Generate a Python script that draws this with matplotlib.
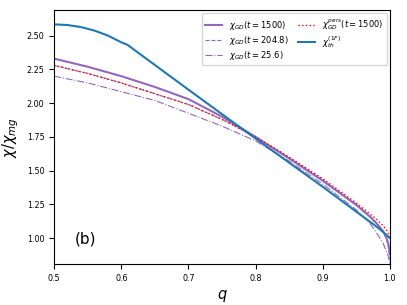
import matplotlib
matplotlib.use("Agg")
import matplotlib.pyplot as plt
import numpy as np

q = [0.5, 0.55, 0.6, 0.65, 0.7, 0.75, 0.8, 0.85, 0.9, 0.95, 0.97, 0.98, 0.99, 0.995, 0.998, 1.0]

gd_1500 = [2.33, 2.27, 2.20, 2.12, 2.03, 1.90, 1.75, 1.59, 1.425, 1.245, 1.16, 1.11, 1.05, 1.00, 0.95, 0.88]
gd_204 = [2.28, 2.22, 2.15, 2.07, 1.99, 1.88, 1.75, 1.595, 1.43, 1.25, 1.165, 1.115, 1.05, 0.99, 0.93, 0.84]
gd_25 = [2.20, 2.15, 2.085, 2.02, 1.925, 1.83, 1.72, 1.57, 1.40, 1.21, 1.11, 1.04, 0.96, 0.90, 0.86, 0.80]
gd_pers = [2.28, 2.22, 2.15, 2.07, 1.99, 1.88, 1.75, 1.60, 1.44, 1.26, 1.18, 1.14, 1.09, 1.06, 1.03, 1.00]

q_th = [0.5, 0.52, 0.54, 0.56, 0.58, 0.6, 0.609, 0.7, 0.789, 0.9, 0.98, 0.99, 0.995, 1.0]
chi_th = [2.584, 2.579, 2.564, 2.538, 2.501, 2.451, 2.433, 2.10, 1.777, 1.38, 1.085, 1.045, 1.022, 1.0]

fig = plt.figure(figsize=(4.07, 3.05), dpi=100)
ax = fig.add_axes([0.133, 0.134, 0.825, 0.833])

purple = '#9467bd'
ax.plot(q, gd_1500, color=purple, lw=1.5, label=r'$\chi_{GD}(t=1500)$')
ax.plot(q, gd_204, color=purple, lw=0.8, ls='--', label=r'$\chi_{GD}(t=204.8)$')
ax.plot(q, gd_25, color=purple, lw=0.8, ls='-.', label=r'$\chi_{GD}(t=25.6)$')
ax.plot(q, gd_pers, color='red', lw=1.0, ls=':', label=r'$\chi_{GD}^{pers}(t=1500)$')
ax.plot(q_th, chi_th, color='#1f77b4', lw=1.5, label=r'$\chi_{th}^{(1F)}$')

ax.set_xlim(0.5, 1.0)
ax.set_ylim(0.807, 2.69)
ax.set_yticks([1.0, 1.25, 1.5, 1.75, 2.0, 2.25, 2.5])
ax.tick_params(labelsize=5.8)
ax.set_xlabel(r'$q$', fontsize=10.5)
ax.set_ylabel(r'$\chi/\chi_{mg}$', fontsize=10.5)
ax.text(0.53, 0.96, '(b)', fontsize=11)
ax.legend(ncol=2, loc='upper right', fontsize=6.0, borderaxespad=0.4,
          handlelength=2, columnspacing=1.2, labelspacing=0.25)

fig.savefig('out.png', dpi=100)
